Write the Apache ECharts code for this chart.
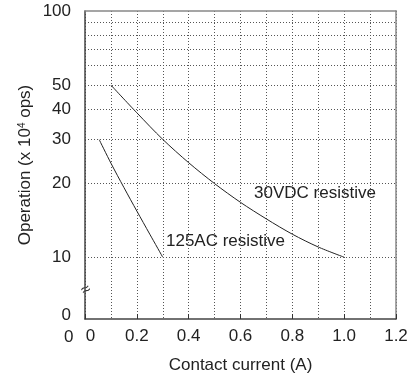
<!DOCTYPE html>
<html><head><meta charset="utf-8">
<script src="https://cdn.jsdelivr.net/npm/echarts@6/dist/echarts.min.js"></script>
<style>html,body{margin:0;padding:0;background:#fff}#c{width:415px;height:379px}</style>
</head><body><div id="c"></div>
<script>
// ---- data ----
const vdcCurrent = [0.1, 0.2, 0.3, 0.4, 0.5, 0.6, 0.7, 0.8, 0.9, 1.0];
const vdcOps     = [50, 38.6, 30.1, 24.2, 19.9, 16.7, 14.3, 12.4, 11, 10];
const acCurrent  = [0.055, 0.1, 0.15, 0.2, 0.25, 0.3];
const acOps      = [30, 24.1, 19.2, 15.4, 12.4, 10];
const yGridValues  = [10, 20, 30, 40, 50, 60, 70, 80, 90];
const yLabelValues = [10, 20, 30, 40, 50];
const yTopLabel = 100;
const yBreakMin = 5.61;   // bottom of broken log axis, labelled "0"
const seriesNames = ['30VDC resistive', '125AC resistive'];

const FONT = 'Liberation Sans, Arial, sans-serif';
const TXT = '#222';
const zip = (a, b) => a.map((v, i) => [v, b[i]]);

const gridLines = yGridValues.map(v => ({
  yAxis: v,
  label: { show: yLabelValues.includes(v), formatter: String(v) }
}));
gridLines.push({ yAxis: yTopLabel * 0.9999, label: { show: true, formatter: String(yTopLabel) }, lineStyle: { color: 'rgba(0,0,0,0)' } });
gridLines.push({ yAxis: yBreakMin * 1.0005, label: { show: true, formatter: '{z|0}' }, lineStyle: { color: 'rgba(0,0,0,0)' } });

const chart = echarts.init(document.getElementById('c'), null, { renderer: 'canvas' });
chart.setOption({
  animation: false,
  textStyle: { fontFamily: FONT },
  grid: { left: 85, right: 19, top: 11, bottom: 59, containLabel: false },
  xAxis: [{
    type: 'value', min: 0, max: 1.2, interval: 0.2,
    name: 'Contact current (A)', nameLocation: 'middle', nameGap: 38,
    nameTextStyle: { fontSize: 17, color: TXT, fontFamily: FONT },
    axisLine: { lineStyle: { color: '#444', width: 1.5 } },
    axisTick: { inside: true, length: 5, lineStyle: { color: '#333' } },
    axisLabel: {
      fontSize: 17, color: TXT, fontFamily: FONT, margin: 9,
      formatter: v => v === 0 ? '{z|0}' : v.toFixed(1),
      rich: { z: { fontSize: 17, color: TXT, fontFamily: FONT, padding: [0, 0, 0, 11] } }
    },
    splitLine: { show: true, lineStyle: { type: [1, 2], color: '#555', width: 1 } },
    minorTick: { show: false, splitNumber: 2 },
    minorSplitLine: { show: true, lineStyle: { type: [1, 2], color: '#555', width: 1 } }
  }, {
    type: 'value', position: 'top', min: 0, max: 1.2,
    axisLine: { show: true, onZero: false, lineStyle: { color: '#888', width: 1.5 } },
    axisTick: { show: false }, axisLabel: { show: false }, splitLine: { show: false }
  }],
  yAxis: [{
    type: 'log', logBase: 10, min: yBreakMin, max: 100,
    name: 'Operation (x 10{s|4} ops)', nameLocation: 'middle', nameGap: 51, nameRotate: 90,
    nameTextStyle: { fontSize: 17, color: TXT, fontFamily: FONT,
      rich: { s: { fontSize: 10, color: TXT, fontFamily: FONT, verticalAlign: 'top', padding: [0, 0, 6, 0] } } },
    axisLine: { show: true, lineStyle: { color: '#444', width: 1.5 } },
    axisTick: { show: false },
    axisLabel: { show: false },
    splitLine: { show: false }
  }, {
    type: 'value', position: 'right', min: 0, max: 1,
    axisLine: { show: true, onZero: false, lineStyle: { color: '#888', width: 1.5 } },
    axisTick: { show: false }, axisLabel: { show: false }, splitLine: { show: false }
  }],
  series: [
    {
      name: seriesNames[0], type: 'line', data: zip(vdcCurrent, vdcOps), smooth: 0.3,
      showSymbol: false, lineStyle: { color: '#222', width: 1 },
      markLine: {
        silent: true, symbol: 'none',
        lineStyle: { type: [1, 2], color: '#555', width: 1 },
        label: { position: 'start', distance: 14, fontSize: 17, color: TXT, fontFamily: FONT,
          rich: { z: { fontSize: 17, color: TXT, fontFamily: FONT, padding: [0, 0, 8, 0] } } },
        data: gridLines
      }
    },
    {
      name: seriesNames[1], type: 'line', data: zip(acCurrent, acOps), smooth: 0.3,
      showSymbol: false, lineStyle: { color: '#222', width: 1 }
    }
  ],
  graphic: [
    { type: 'text', left: 254, top: 185, style: { text: seriesNames[0], font: '17px ' + FONT, fill: TXT } },
    { type: 'text', left: 166, top: 233, style: { text: seriesNames[1], font: '17px ' + FONT, fill: TXT } },
    { type: 'text', x: 64, y: 329, style: { text: '0', font: '17px ' + FONT, fill: TXT } },
    { type: 'text', x: 86, y: 290, rotation: 0.5, style: { text: '≈', font: '16px ' + FONT, fill: '#333', align: 'center', verticalAlign: 'middle' } }
  ]
});
</script></body></html>
